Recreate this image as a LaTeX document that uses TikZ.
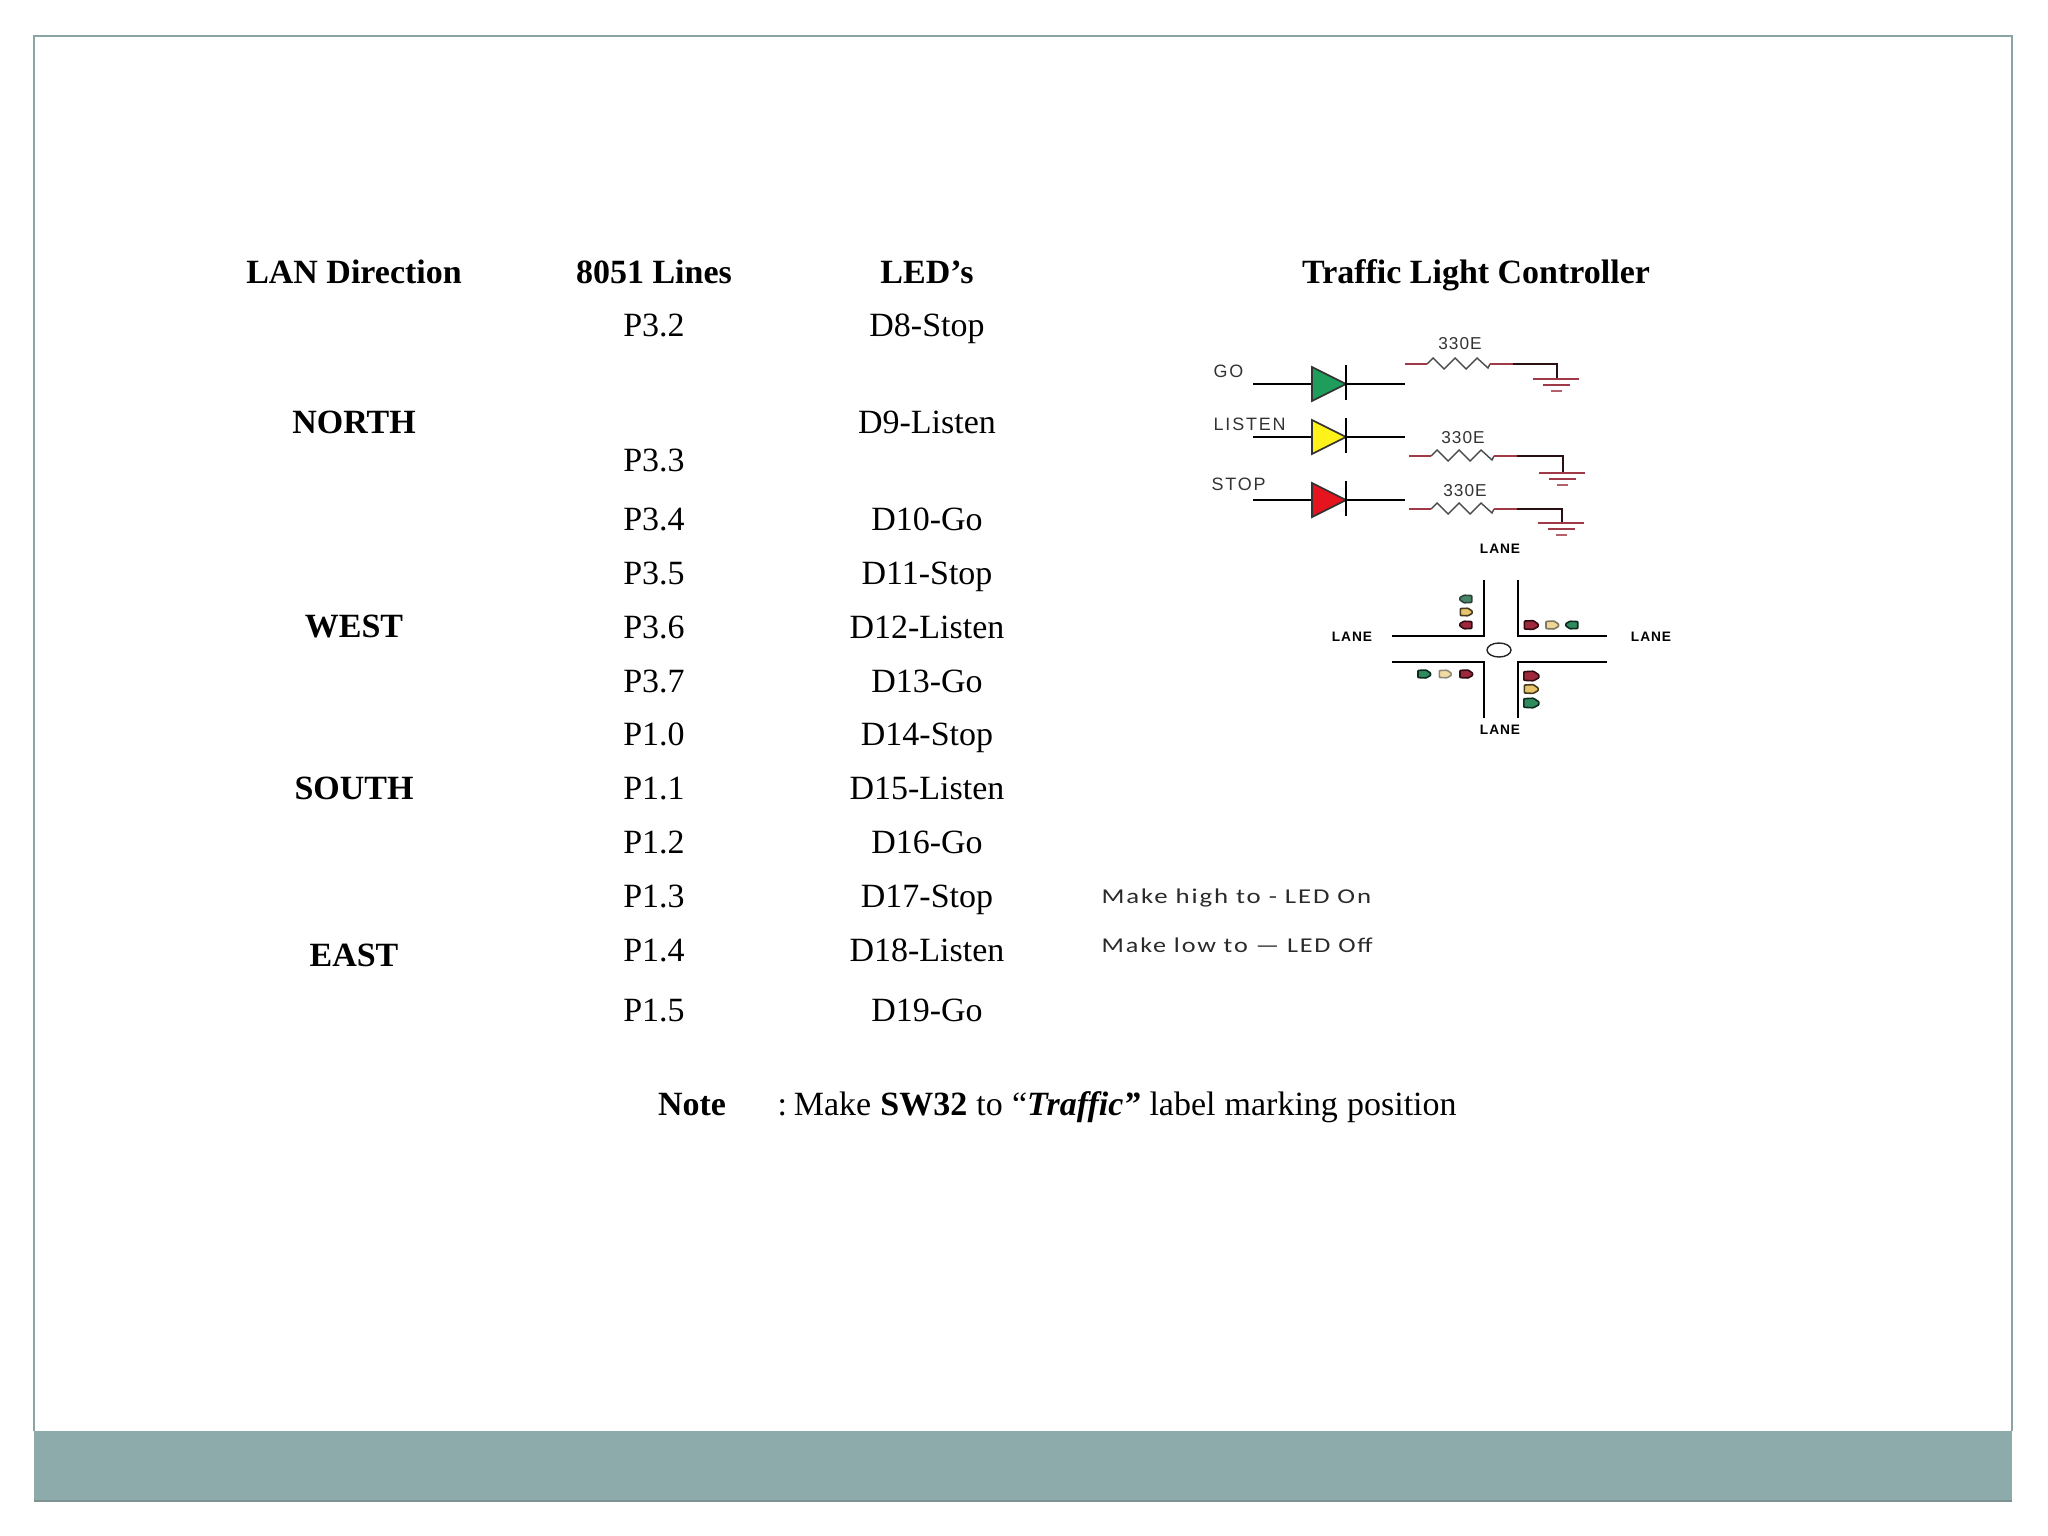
\documentclass[tikz,border=0pt]{standalone}
\usepackage{fontspec}
\setmainfont{Liberation Serif}
\newfontfamily\schemfont[LetterSpace=6]{Liberation Sans}
\newfontfamily\signfont[LetterSpace=10]{Liberation Sans}
\newfontfamily\lanefont[LetterSpace=7]{Liberation Sans}
\newfontfamily\notefont[LetterSpace=7]{Carlito}
\definecolor{framecol}{HTML}{8AA5A3}
\definecolor{bandcol}{HTML}{8DABAB}
\definecolor{bandedge}{HTML}{7E9291}
\definecolor{ledgreen}{HTML}{1E9E5A}
\definecolor{ledyellow}{HTML}{FFF21A}
\definecolor{ledred}{HTML}{E6141E}
\definecolor{wirered}{HTML}{A03A48}
\definecolor{sigred}{HTML}{A0283C}
\definecolor{sigyellow}{HTML}{E8C46A}
\definecolor{siggreen}{HTML}{2E8B5E}
\definecolor{notegrey}{HTML}{2A2A2A}
\tikzset{
  body/.style={inner sep=0pt,anchor=base,font=\fontsize{9.66pt}{11pt}\selectfont},
  head/.style={body,font=\fontsize{9.66pt}{11pt}\selectfont\bfseries},
  schem/.style={inner sep=0pt,anchor=center,text=black!80,font=\fontsize{4.9pt}{6pt}\schemfont},
  sign/.style={inner sep=0pt,anchor=west,text=black!80,font=\fontsize{5.1pt}{6pt}\signfont},
  lane/.style={inner sep=0pt,anchor=center,font=\fontsize{3.9pt}{5pt}\lanefont\bfseries},
  makenote/.style={inner sep=0pt,anchor=base west,text=notegrey,font=\fontsize{6pt}{7pt}\notefont},
  wire/.style={line width=0.55pt,black},
  redwire/.style={line width=0.5pt,wirered},
  road/.style={line width=0.6pt,black},
}
\newcommand{\ledsym}[3]{% y, fill, name
  \coordinate (#3in) at (1253,#1);
  \coordinate (#3out) at (1405,#1);
  \draw[wire] (#3in) -- (#3out);
  \draw[line width=0.5pt,black!80,fill=#2] (1312,#1-17) -- (1346,#1) -- (1312,#1+17) -- cycle;
  \draw[wire] (1346,#1-19) -- (1346,#1+16);
}
\newcommand{\ressym}[4]{% x start, y, x end of wire, y ground
  \draw[redwire] (#1,#2) -- (#1+22,#2);
  \draw[line width=0.4pt,black!70] (#1+22,#2) -- ++(6,-6) -- ++(11,11) -- ++(11,-11) -- ++(11,11) -- ++(11,-11) -- ++(11,10) -- (#1+85,#2);
  \draw[redwire] (#1+85,#2) -- (#1+108,#2);
  \draw[line width=0.5pt,black!75!wirered] (#1+108,#2) -- (#3,#2) -- (#3,#4);
  \draw[line width=0.6pt,wirered] (#3-24,#4) -- (#3+22,#4);
  \draw[line width=0.5pt,wirered] (#3-14,#4+6) -- (#3+13,#4+6);
  \draw[line width=0.4pt,wirered!80] (#3-6,#4+12) -- (#3+5,#4+12);
}
\newcommand{\signalsym}[5]{% x, y, colour, rotation, scale
  \begin{scope}[shift={(#1,#2)},rotate=#4,scale=#5]
    \fill[#3,draw=black!70!#3,line width=0.45pt,rounded corners=0.2pt]
      (-6,-3.6) -- (2,-4) -- (6.5,-1) -- (6.5,1.5) -- (2,4) -- (-6,3.6) -- cycle;
  \end{scope}
}
\begin{document}
\begin{tikzpicture}[x=0.01cm,y=-0.01cm]
\useasboundingbox (0,0) rectangle (2048,1536);
% frame and band
\fill[bandcol] (34,1431) rectangle (2012,1501);
\draw[framecol,line width=0.8pt] (34,1431) -- (34,36) -- (2012,36) -- (2012,1431);
\draw[bandedge,line width=0.6pt] (34,1501) -- (2012,1501);
% headers
\node[head] (h1) at (354,283) {LAN Direction};
\node[head] (h2) at (654,283) {8051 Lines};
\node[head] (h3) at (927,283) {LED’s};
\node[head] (h4) at (1476,283) {Traffic Light Controller};
% directions
\node[head] (north) at (354,433) {NORTH};
\node[head] (west) at (354,637) {WEST};
\node[head] (south) at (354,799) {SOUTH};
\node[head] (east) at (354,966) {EAST};
% port lines
\node[body] (p32) at (654,336) {P3.2};
\node[body] (p33) at (654,471) {P3.3};
\node[body] (p34) at (654,530) {P3.4};
\node[body] (p35) at (654,584) {P3.5};
\node[body] (p36) at (654,638) {P3.6};
\node[body] (p37) at (654,692) {P3.7};
\node[body] (p10) at (654,745) {P1.0};
\node[body] (p11) at (654,799) {P1.1};
\node[body] (p12) at (654,853) {P1.2};
\node[body] (p13) at (654,907) {P1.3};
\node[body] (p14) at (654,961) {P1.4};
\node[body] (p15) at (654,1021) {P1.5};
% LEDs
\node[body] (d8) at (927,336) {D8-Stop};
\node[body] (d9) at (927,433) {D9-Listen};
\node[body] (d10) at (927,530) {D10-Go};
\node[body] (d11) at (927,584) {D11-Stop};
\node[body] (d12) at (927,638) {D12-Listen};
\node[body] (d13) at (927,692) {D13-Go};
\node[body] (d14) at (927,745) {D14-Stop};
\node[body] (d15) at (927,799) {D15-Listen};
\node[body] (d16) at (927,853) {D16-Go};
\node[body] (d17) at (927,907) {D17-Stop};
\node[body] (d18) at (927,961) {D18-Listen};
\node[body] (d19) at (927,1021) {D19-Go};
% note
\node[head] (notehead) at (692,1115) {Note};
\node[body,anchor=base west] (notetext) at (777,1115) {\spaceskip=1.08\fontdimen2\font :\hspace{0.2em}Make \textbf{SW32} to “\textbf{\textit{Traffic”}} label marking position};
% circuit
\node[sign] (go) at (1213,371) {GO};
\node[sign] (listen) at (1213,424) {LISTEN};
\node[sign] (stop) at (1211,484) {STOP};
\ledsym{384}{ledgreen}{a}
\ledsym{437}{ledyellow}{b}
\ledsym{500}{ledred}{c}
\ressym{1405}{364}{1557}{379}
\ressym{1409}{456}{1563}{473}
\ressym{1409}{509}{1562}{523}
\node[schem] (r1) at (1460,344) {330E};
\node[schem] (r2) at (1463,438) {330E};
\node[schem] (r3) at (1465,491) {330E};
% crossing
\draw[road] (1484,580) -- (1484,636) -- (1392,636);
\draw[road] (1518,580) -- (1518,636) -- (1607,636);
\draw[road] (1392,662) -- (1484,662) -- (1484,718);
\draw[road] (1607,662) -- (1518,662) -- (1518,718);
\draw[line width=0.4pt,black!85] (1499,650) ellipse (12 and 7);
\node[lane] (lt) at (1500,549) {LANE};
\node[lane] (ll) at (1352,637) {LANE};
\node[lane] (lr) at (1651,637) {LANE};
\node[lane] (lb) at (1500,730) {LANE};
% signals
\signalsym{1466}{599}{siggreen!70!gray}{180}{0.95}
\signalsym{1466}{612}{sigyellow}{0}{0.95}
\signalsym{1466}{625}{sigred}{180}{0.95}
\signalsym{1531}{625}{sigred}{0}{1.1}
\signalsym{1552}{625}{sigyellow!70}{0}{1.0}
\signalsym{1572}{625}{siggreen}{180}{0.95}
\signalsym{1424}{674}{siggreen}{0}{1.0}
\signalsym{1445}{674}{sigyellow!60}{0}{0.95}
\signalsym{1466}{674}{sigred}{0}{1.0}
\signalsym{1531}{676}{sigred}{0}{1.2}
\signalsym{1531}{689}{sigyellow}{0}{1.1}
\signalsym{1531}{703}{siggreen}{0}{1.2}
% high/low notes
\node[makenote] (mk1) at (1101,903) {\scalebox{1.27}[1]{Make high to - LED On}};
\node[makenote] (mk2) at (1101,952) {\scalebox{1.24}[1]{Make low to — LED Off}};
\end{tikzpicture}
\end{document}
